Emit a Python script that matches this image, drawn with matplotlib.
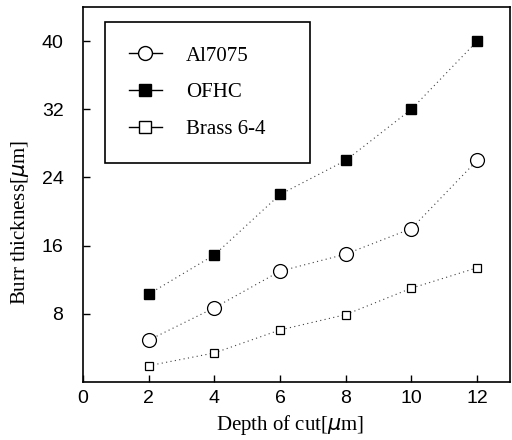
import matplotlib
matplotlib.use("Agg")
import matplotlib.pyplot as plt
from matplotlib.lines import Line2D

depth = [2, 4, 6, 8, 10, 12]
al7075 = [4.9, 8.7, 13.0, 15.0, 18.0, 26.0]
ofhc = [10.3, 14.9, 22.0, 26.0, 32.0, 40.0]
brass = [1.9, 3.4, 6.1, 7.9, 11.0, 13.4]
xticks = [0, 2, 4, 6, 8, 10, 12]
yticks = [8, 16, 24, 32, 40]
labels = ['Al7075', 'OFHC', 'Brass 6-4']

fig = plt.figure(figsize=(5.12, 4.4), dpi=100)
ax = fig.add_axes([0.162, 0.132, 0.834, 0.852])

dot = (0, (1, 3))
ax.plot(depth, al7075, linestyle=dot, color='0.25', linewidth=0.8, marker='o',
        markersize=10, markerfacecolor='white', markeredgecolor='k', markeredgewidth=0.9)
ax.plot(depth, ofhc, linestyle=dot, color='0.25', linewidth=0.8, marker='s',
        markersize=6.5, markerfacecolor='k', markeredgecolor='k')
ax.plot(depth, brass, linestyle=dot, color='0.25', linewidth=0.8, marker='s',
        markersize=6, markerfacecolor='white', markeredgecolor='k', markeredgewidth=0.9)

ax.set_xlim(0, 13)
ax.set_ylim(0, 44)
ax.set_xticks(xticks)
ax.set_yticks(yticks)
ax.tick_params(direction='in', length=5, width=1, labelsize=14, top=False, right=False)
ax.tick_params(axis='y', pad=14)
ax.tick_params(axis='x', pad=6)
for lab in ax.get_xticklabels() + ax.get_yticklabels():
    lab.set_fontfamily('Liberation Sans')
for sp in ax.spines.values():
    sp.set_linewidth(1.2)

ax.set_xlabel(r'Depth of cut[$\mu$m]', fontfamily='Liberation Serif', fontsize=15)
ax.set_ylabel(r'Burr thickness[$\mu$m]', fontfamily='Liberation Serif', fontsize=15)
ax.xaxis.set_label_coords(0.485, -0.083)
ax.yaxis.set_label_coords(-0.122, 0.424)

handles = [
    Line2D([], [], color='k', linewidth=1, marker='o', markersize=10,
           markerfacecolor='white', markeredgecolor='k'),
    Line2D([], [], color='k', linewidth=1, marker='s', markersize=8,
           markerfacecolor='k', markeredgecolor='k'),
    Line2D([], [], color='k', linewidth=1, marker='s', markersize=8,
           markerfacecolor='white', markeredgecolor='k'),
]
leg = ax.legend(handles, [labels[0], labels[1], labels[2] + '    '], loc='upper left',
                bbox_to_anchor=(0.051, 0.96), fancybox=False, frameon=True,
                edgecolor='k', framealpha=1, prop={'family': 'Liberation Serif', 'size': 15},
                handlelength=1.6, labelspacing=0.82, borderpad=1.15, handletextpad=1.15,
                borderaxespad=0)
leg.get_frame().set_linewidth(1.2)

fig.savefig('out.png', dpi=100)
